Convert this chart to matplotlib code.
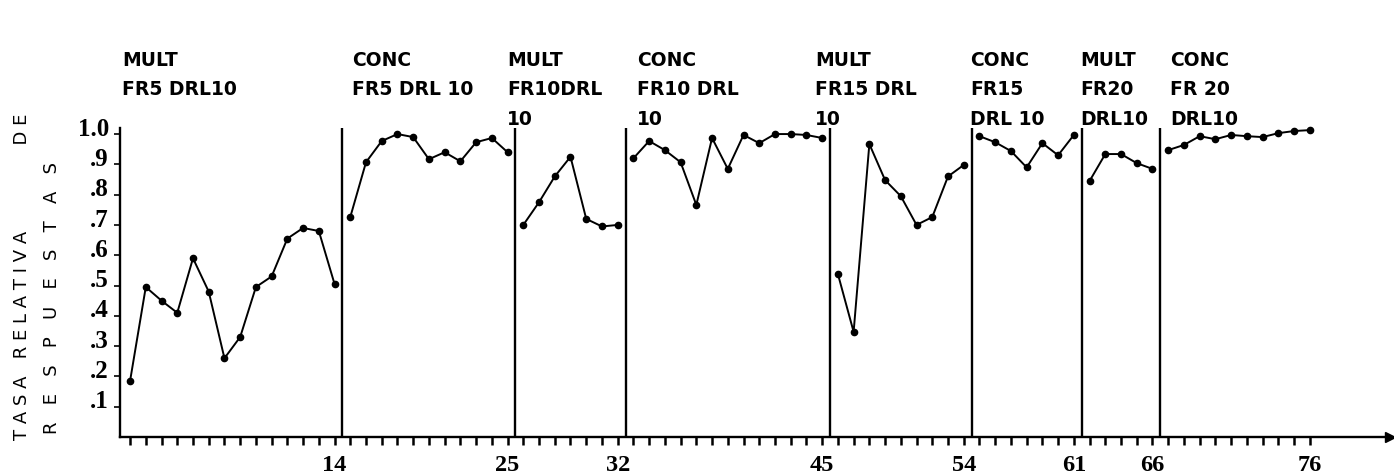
import matplotlib
matplotlib.use("Agg")
import matplotlib.pyplot as plt
import matplotlib.transforms as mtransforms
import numpy as np

# ---------------- data ----------------
panel_titles = [
    ["MULT", "FR5 DRL10"],
    ["CONC", "FR5 DRL 10"],
    ["MULT", "FR10DRL", "10"],
    ["CONC", "FR10 DRL", "10"],
    ["MULT", "FR15 DRL", "10"],
    ["CONC", "FR15", "DRL 10"],
    ["MULT", "FR20", "DRL10"],
    ["CONC", "FR 20", "DRL10"],
]
panel_first_session = [1, 15, 26, 33, 46, 55, 62, 67]

mult_fr5 = [0.185, 0.495, 0.45, 0.41, 0.59, 0.48, 0.26, 0.33, 0.495, 0.53, 0.655, 0.69, 0.68, 0.505]
conc_fr5 = [0.726, 0.907, 0.977, 1.0, 0.99, 0.917, 0.94, 0.91, 0.973, 0.987, 0.94]
mult_fr10 = [0.70, 0.775, 0.86, 0.925, 0.72, 0.695, 0.70]
conc_fr10 = [0.92, 0.977, 0.947, 0.907, 0.766, 0.987, 0.885, 0.997, 0.97, 1.0, 1.0, 0.997, 0.987]
mult_fr15 = [0.538, 0.347, 0.967, 0.848, 0.795, 0.70, 0.726, 0.86, 0.898]
conc_fr15 = [0.993, 0.973, 0.944, 0.89, 0.97, 0.93, 0.997]
mult_fr20 = [0.845, 0.934, 0.934, 0.904, 0.885]
conc_fr20 = [0.947, 0.964, 0.993, 0.983, 0.997, 0.993, 0.99, 1.003, 1.01, 1.013]
panel_values = [mult_fr5, conc_fr5, mult_fr10, conc_fr10,
                mult_fr15, conc_fr15, mult_fr20, conc_fr20]

x_labeled_sessions = [14, 25, 32, 45, 54, 61, 66, 76]
y_tick_values = [0.1, 0.2, 0.3, 0.4, 0.5, 0.6, 0.7, 0.8, 0.9, 1.0]
y_tick_labels = [".1", ".2", ".3", ".4", ".5", ".6", ".7", ".8", ".9", "1.0"]
y_title_line1 = "T A S A   R E L A T I V A               D E"
y_title_line2 = "R   E   S   P   U   E   S   T   A   S"

# ---------------- layout ----------------
W, H = 1394, 477
fig = plt.figure(figsize=(W / 100, H / 100), dpi=100)
fig.patch.set_facecolor("white")

ax = fig.add_axes([120 / W, (H - 438) / H, 1270 / W, (438 - 129) / H])
ax.set_xlim(0.36, 81.1)
ax.set_ylim(0, 1.02)

last_session = panel_first_session[-1] + len(panel_values[-1]) - 1
for start, vals in zip(panel_first_session, panel_values):
    s = np.arange(start, start + len(vals))
    ax.plot(s, vals, "-", color="black", lw=1.4, marker="o", ms=4.5,
            mfc="black", mec="black", clip_on=False, zorder=3)

for start, vals in zip(panel_first_session[:-1], panel_values[:-1]):
    ax.axvline(start + len(vals) - 0.5, ymin=0, ymax=1, color="black", lw=1.7)

for side in ("top", "right"):
    ax.spines[side].set_visible(False)
for side in ("left", "bottom"):
    ax.spines[side].set_linewidth(1.7)
    ax.spines[side].set_color("black")

ax.plot([1], [0], marker=">", ms=7, color="black", transform=ax.transAxes,
        clip_on=False)

sessions = list(range(1, last_session + 1))
ax.set_xticks(sessions)
ax.set_xticklabels([str(s) if s in x_labeled_sessions else "" for s in sessions])
ax.tick_params(axis="x", direction="out", length=6, width=1.8, pad=6,
               labelsize=17.5)
for lab in ax.get_xticklabels():
    lab.set_fontfamily("Liberation Serif")
    lab.set_fontweight("bold")

ax.set_yticks(y_tick_values)
ax.set_yticklabels(y_tick_labels)
ax.tick_params(axis="y", direction="out", length=4, width=1.2, pad=4,
               labelsize=18)
offset = mtransforms.ScaledTranslation(0, 6 / 72, fig.dpi_scale_trans)
for lab in ax.get_yticklabels():
    lab.set_fontfamily("Liberation Serif")
    lab.set_fontweight("bold")
    lab.set_transform(lab.get_transform() + offset)

# y-axis title (two rotated lines)
fig.text(22 / W, 1 - 277 / H, y_title_line1, rotation=90, ha="center",
         va="center", fontsize=13, family="DejaVu Sans")
fig.text(52 / W, 1 - 298 / H, y_title_line2, rotation=90, ha="center",
         va="center", fontsize=13, family="DejaVu Sans")

# panel titles
title_x = [122, 352, 507, 637, 815, 970, 1080, 1170]
line_y = [60, 90, 120]
for tx, lines in zip(title_x, panel_titles):
    for i, line in enumerate(lines):
        fig.text(tx / W, 1 - line_y[i] / H, line, ha="left", va="center",
                 fontsize=13.5, fontweight="bold", family="DejaVu Sans")

fig.savefig("out.png", dpi=100, facecolor="white")
